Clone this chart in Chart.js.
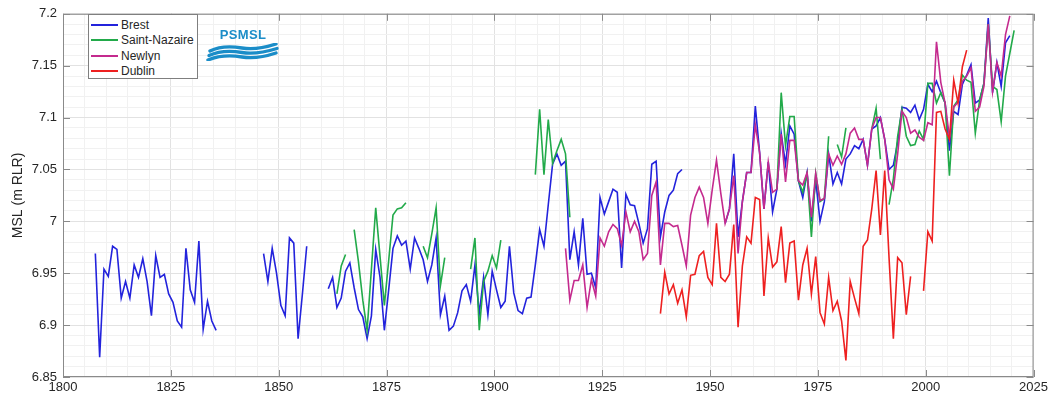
<!DOCTYPE html>
<html lang="en">
<head>
<meta charset="UTF-8" />
<title>MSL | Brest, Saint-Nazaire, Newlyn, Dublin</title>
<script src="https://cdn.jsdelivr.net/npm/chart.js"></script>
<style>
  body { margin: 0; background: #fff; }
  .wrap { position: relative; width: 1051px; height: 396px; }
  .legend {
    position: absolute; left: 88px; top: 14px; width: 110px; height: 65px;
    box-sizing: border-box; border: 1px solid #7f7f7f; background: #fff;
    font: 12px "Liberation Sans", Arial, sans-serif; color: #262626; padding-top: 2px;
  }
  .legend .item { height: 15.5px; display: flex; align-items: center; }
  .legend .swatch { width: 27px; height: 2px; margin: 0 3px 0 2px; }
  .logo { position: absolute; left: 206px; top: 27px; width: 74px; }
  .logo .name { font: bold 13px "Liberation Sans", Arial, sans-serif; color: #1b8dc8; text-align: center; letter-spacing: 0.3px; }
  .logo svg { display: block; margin-top: 1px; }
</style>
</head>
<body>
<div class="wrap">
  <canvas id="mslChart" width="1051" height="396"></canvas>
  <div class="legend" id="legend"></div>
  <div class="logo">
    <div class="name">PSMSL</div>
    <svg width="74" height="18" viewBox="0 0 74 18">
      <g fill="none" stroke="#1b8dc8" stroke-width="3.4" stroke-linecap="round">
        <path d="M4 8 C14 3 24 3 36 5 C48 7 58 5 70 1"/>
        <path d="M3 12.5 C14 7.5 24 7.5 36 9.5 C48 11.5 58 9.5 71 5.5"/>
        <path d="M2 17 C14 12 24 12 36 14 C48 16 58 14 70 10"/>
      </g>
    </svg>
  </div>
</div>

<script>
  // Annual mean sea level (m, RLR), one value per year from the start year, null = no data
  const seriesNames = ['Brest', 'Saint-Nazaire', 'Newlyn', 'Dublin'];
  const seriesColors = ['#2323dc', '#22aa4a', '#c42a8e', '#ee2020'];

  const brestStart = 1807;
  const brestMsl = [
    6.969, 6.869, 6.954, 6.947, 6.976, 6.973, 6.926, 6.942, 6.926, 6.958, // 1807-1816
    6.946, 6.964, 6.942, 6.909, 6.967, 6.946, 6.949, 6.930, 6.922, 6.904, // 1817-1826
    6.898, 6.974, 6.934, 6.922, 6.981, 6.896, 6.923, 6.904, 6.895,        // 1827-1835
    null, null, null, null, null, null, null, null, null, null,           // 1836-1845
    6.969, 6.942, 6.974, 6.950, 6.919, 6.909, 6.984, 6.979, 6.887, 6.930, // 1846-1855
    6.976, null, null, null, null,                                        // 1856-1860
    6.935, 6.946, 6.917, 6.926, 6.952, 6.960, 6.936, 6.915, 6.908, 6.887, // 1861-1870
    6.909, 6.973, 6.946, 6.895, 6.934, 6.974, 6.986, 6.977, 6.981, 6.954,
    6.984, 6.974, 6.963, 6.942, 6.958, 6.984, 6.910, 6.928, 6.895, 6.899,
    6.912, 6.933, 6.939, 6.923, 6.958, 6.911, 6.946, 6.910, 6.952, 6.934,
    6.917, 6.923, 6.976, 6.931, 6.914, 6.911, 6.926, 6.927, 6.958, 6.992, // 1901-1910
    6.976, 7.016, 7.055, 7.065, 7.054, 7.058, 6.963, 6.990, 6.958, 7.003,
    6.949, 6.950, 6.936, 7.023, 7.007, 7.019, 7.031, 7.028, 6.955, 7.026,
    7.016, 7.015, 6.998, 6.979, 6.993, 7.055, 7.058, 6.985, 7.009, 7.025,
    7.030, 7.046, 7.050,                                                  // 1941-1943
    null, null, null, null, null, null, null, null, null,                 // 1944-1952
    6.998, 7.012, 7.065, 6.985, 7.019, 7.047, 7.047, 7.111, 7.066, 7.012, // 1953-1962
    7.057, 7.009, 7.031, 7.085, 7.055, 7.092, 7.084, 7.039, 7.023, 7.047,
    7.000, 7.040, 7.000, 7.019, 7.065, 7.036, 7.047, 7.036, 7.060, 7.065,
    7.073, 7.070, 7.079, 7.054, 7.089, 7.092, 7.100, 7.079, 7.050, 7.054,
    7.076, 7.110, 7.109, 7.105, 7.112, 7.098, 7.108, 7.132, 7.125, 7.135,
    7.124, 7.114, 7.068, 7.106, 7.103, 7.132, 7.141, 7.151, 7.114, 7.117,
    7.133, 7.196, 7.124, 7.153, 7.130, 7.172, 7.179                       // 2013-2019
  ];

  const nazaireStart = 1863;
  const nazaireMsl = [
    6.930, 6.957, 6.968, null, 6.992, 6.961, 6.924, 6.895, 6.954, 7.013,  // 1863-1872
    6.966, 6.919, 6.962, 7.006, 7.012, 7.013, 7.018, null, null, null,
    6.976, 6.965, 6.988, 7.013, 6.938, 6.965, null, null, null, null,     // 1883-1892
    null, 6.954, 6.984, 6.895, 6.942, 6.952, 6.967, 6.955, 6.982, null,
    null, null, null, null, null, null, 7.045, 7.108, 7.045, 7.098,       // 1903-1912
    7.056, 7.068, 7.079, 7.065, 7.004, null, null, null, null, null,
    null, null, null, null, null, null, null, null, null, null,
    null, null, null, null, null, null, null, null, null, null,
    null, null, null, null, null, null, null, null, null, null,
    null, null, null, null, null, null, null, null, null, null,           // 1953-1962
    null, null, 7.031, 7.124, 7.073, 7.101, 7.101, 7.039, 7.028, 7.046,   // 1963-1972
    6.985, 7.046, 7.019, 7.022, 7.082, null, 7.074, 7.062, 7.090, null,
    null, null, null, null, 7.089, 7.109, 7.060, null, 7.016, 7.041,      // 1983-1992
    7.082, 7.108, 7.082, 7.073, 7.074, 7.087, 7.079, 7.133, 7.133, 7.114,
    7.124, 7.114, 7.044, 7.111, 7.117, 7.141, 7.136, 7.134, 7.085, 7.117,
    7.133, 7.190, 7.130, 7.127, 7.096, 7.140, 7.162, 7.184                // 2013-2020
  ];

  const newlynStart = 1916;
  const newlynMsl = [
    6.974, 6.924, 6.943, 6.943, 6.958, 6.917, 6.944, 6.928, 6.984, 6.976, // 1916-1925
    6.990, 6.997, 6.993, 6.977, 7.009, 6.990, 7.000, 6.990, 6.963, 6.969,
    7.025, 7.038, 6.958, 6.998, 6.998, 6.995, 6.996, 6.977, 6.957, 7.006,
    7.023, 7.033, 7.023, 6.998, 7.030, 7.059, 7.027, 6.998, 7.012, 7.044,
    6.969, 7.019, 7.047, 7.047, 7.093, 7.066, 7.012, 7.057, 7.028, 7.031,
    7.084, 7.038, 7.078, 7.078, 7.039, 7.035, 7.047, 7.004, 7.046, 7.020,
    7.022, 7.065, 7.054, 7.063, 7.055, 7.065, 7.085, 7.090, 7.079, 7.079,
    7.054, 7.089, 7.100, 7.100, 7.079, 7.040, 7.031, 7.065, 7.106, 7.100,
    7.085, 7.088, 7.081, 7.078, 7.095, 7.093, 7.173, 7.134, 7.114, 7.081,
    7.110, 7.115, 7.135, 7.140, 7.148, 7.106, 7.110, 7.130, 7.190, 7.125,
    7.153, 7.140, 7.180, 7.198                                            // 2016-2019
  ];

  const dublinStart = 1938;
  const dublinMsl = [
    6.911, 6.951, 6.930, 6.939, 6.921, 6.934, 6.908, 6.948, 6.949, 6.967, // 1938-1947
    6.971, 6.946, 6.939, 6.998, 6.946, 6.942, 6.949, 6.997, 6.898, 6.957,
    6.985, 6.979, 7.023, 7.021, 6.928, 6.984, 6.956, 6.961, 6.995, 6.941,
    6.979, 6.981, 6.924, 6.958, 6.974, 6.930, 6.966, 6.912, 6.901, 6.946,
    6.914, 6.923, 6.904, 6.866, 6.942, 6.926, 6.911, 6.976, 6.982, 7.012,
    7.049, 6.987, 7.049, 6.965, 6.887, 6.965, 6.960, 6.910, 6.947, null,  // 1988-1997
    null, 6.933, 6.990, 6.981, 7.105, 7.106, 7.089, 7.079, 7.136, 7.114,
    7.149, 7.165                                                          // 2008-2009
  ];

  const seriesStarts = [brestStart, nazaireStart, newlynStart, dublinStart];
  const seriesValues = [brestMsl, nazaireMsl, newlynMsl, dublinMsl];

  // annual means are plotted at mid-year
  function toPoints(start, values) {
    return values.map((v, i) => ({ x: start + i + 0.5, y: v }));
  }

  const majorGrid = '#e2e2e2';
  const minorGrid = '#f1f1f1';
  const axisColor = '#8a8a8a';
  const textColor = '#262626';
  const font = { family: '"Liberation Sans", Arial, sans-serif', size: 13 };

  // box round the axes with inward major ticks, as in the original figure
  const axesBox = {
    id: 'axesBox',
    afterDraw(chart) {
      const { ctx, chartArea: a, scales: { x, y } } = chart;
      ctx.save();
      ctx.strokeStyle = axisColor;
      ctx.lineWidth = 1;
      ctx.strokeRect(a.left + 0.5, a.top + 0.5, a.right - a.left - 1, a.bottom - a.top - 1);
      ctx.beginPath();
      x.ticks.forEach(t => {
        if (t.value % 25 !== 0) return;
        const px = Math.round(x.getPixelForValue(t.value)) + 0.5;
        ctx.moveTo(px, a.bottom); ctx.lineTo(px, a.bottom - 7);
        ctx.moveTo(px, a.top); ctx.lineTo(px, a.top + 7);
      });
      y.ticks.forEach(t => {
        if (Math.round(t.value * 100) % 5 !== 0) return;
        const py = Math.round(y.getPixelForValue(t.value)) + 0.5;
        ctx.moveTo(a.left, py); ctx.lineTo(a.left + 7, py);
        ctx.moveTo(a.right, py); ctx.lineTo(a.right - 7, py);
      });
      ctx.stroke();
      ctx.restore();
    }
  };

  const ctx = document.getElementById('mslChart').getContext('2d');
  const mslChart = new Chart(ctx, {
    type: 'line',
    data: {
      datasets: seriesNames.map((name, i) => ({
        label: name,
        data: toPoints(seriesStarts[i], seriesValues[i]),
        borderColor: seriesColors[i],
        backgroundColor: seriesColors[i],
        borderWidth: 1.6,
        pointRadius: 0,
        tension: 0,
        spanGaps: false,
        order: seriesNames.length - i   // later stations drawn on top
      }))
    },
    options: {
      responsive: false,
      animation: false,
      layout: { padding: { left: 0, right: 16, top: 10, bottom: 0 } },
      plugins: { legend: { display: false }, tooltip: { enabled: false } },
      scales: {
        x: {
          type: 'linear',
          min: 1800,
          max: 2025,
          afterFit: s => { s.height = 19; },
          border: { display: false },
          grid: {
            drawTicks: false,
            color: c => (c.tick.value % 25 === 0 ? majorGrid : minorGrid)
          },
          ticks: {
            stepSize: 5,
            autoSkip: false,
            maxRotation: 0,
            padding: 3,
            color: textColor,
            font: font,
            callback: v => (v % 25 === 0 ? String(v) : '')
          }
        },
        y: {
          min: 6.85,
          max: 7.2,
          afterFit: s => { s.width = 63; },
          border: { display: false },
          grid: {
            drawTicks: false,
            color: c => (Math.round(c.tick.value * 100) % 5 === 0 ? majorGrid : minorGrid)
          },
          ticks: {
            stepSize: 0.01,
            autoSkip: false,
            padding: 6,
            color: textColor,
            font: font,
            callback: v => (Math.round(v * 100) % 5 === 0 ? String(parseFloat(v.toFixed(2))) : '')
          },
          title: {
            display: true,
            text: 'MSL (m RLR)',
            color: textColor,
            font: { family: font.family, size: 14 },
            padding: { top: 10, bottom: 0 }
          }
        }
      }
    },
    plugins: [axesBox]
  });

  // legend box in the top-left corner of the axes
  const legendBox = document.getElementById('legend');
  seriesNames.forEach((name, i) => {
    const item = document.createElement('div');
    item.className = 'item';
    item.innerHTML = '<span class="swatch" style="background:' + seriesColors[i] + '"></span>' + name;
    legendBox.appendChild(item);
  });
</script>
</body>
</html>
